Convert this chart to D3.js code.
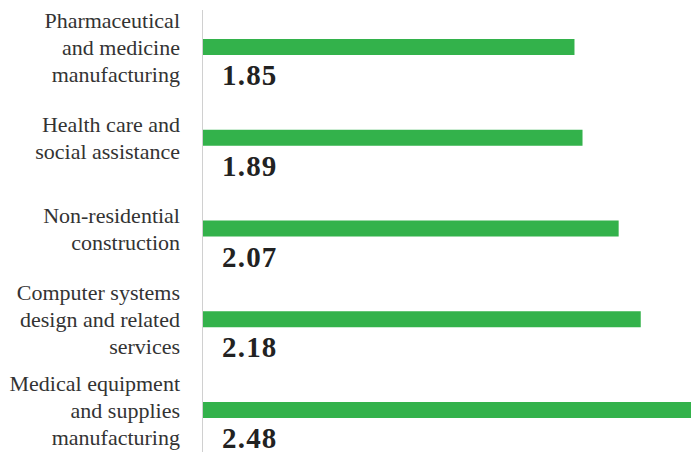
<!DOCTYPE html>
<html>
<head>
<meta charset="utf-8">
<script src="https://cdn.jsdelivr.net/npm/d3@7"></script>
<style>
  html, body { margin: 0; padding: 0; background: #fff; overflow: hidden; }
  .label { font-family: "Liberation Serif", Tinos, "Times New Roman", "DejaVu Serif", serif; font-size: 22px; fill: #333; }
  .value { font-family: "Liberation Serif", Tinos, "Times New Roman", "DejaVu Serif", serif; font-size: 29px; font-weight: bold; fill: #222; letter-spacing: 1.2px; }
</style>
</head>
<body>
<div id="chart"></div>
<script>
// data
const industries = [
  "Pharmaceutical and medicine manufacturing",
  "Health care and social assistance",
  "Non-residential construction",
  "Computer systems design and related services",
  "Medical equipment and supplies manufacturing"
];
const labelLines = [
  ["Pharmaceutical", "and medicine", "manufacturing"],
  ["Health care and", "social assistance"],
  ["Non-residential", "construction"],
  ["Computer systems", "design and related", "services"],
  ["Medical equipment", "and supplies", "manufacturing"]
];
const values = [1.85, 1.89, 2.07, 2.18, 2.48];

let width = 691,
    height = 452,
    barH = 16,
    lineH = 27;

const svg = d3.select("#chart")
  .append("svg")
  .attr("width", width)
  .attr("height", height);

let x = d3.scaleLinear()
  .domain([0, 2.5])
  .range([203, 705]);

let y = d3.scalePoint()
  .domain(industries)
  .range([47, 410]);

// vertical baseline
svg.append("line")
  .attr("x1", 202.5).attr("x2", 202.5)
  .attr("y1", 10).attr("y2", height)
  .attr("stroke", "#d0d0d0")
  .attr("stroke-width", 1);

// bars
svg.append("g")
  .selectAll("rect")
  .data(industries)
  .join("rect")
  .attr("x", x(0))
  .attr("y", d => y(d) - barH / 2)
  .attr("width", (d, i) => x(values[i]) - x(0))
  .attr("height", barH)
  .attr("fill", "#33b24b");

// value labels under each bar
svg.append("g")
  .selectAll("text")
  .data(industries)
  .join("text")
  .attr("class", "value")
  .attr("x", x(0) + 19)
  .attr("y", d => y(d) + barH / 2 + 30)
  .text((d, i) => values[i].toFixed(2));

// category labels, wrapped and centered on the bar
svg.append("g")
  .selectAll("text")
  .data(industries)
  .join("text")
  .attr("class", "label")
  .attr("text-anchor", "end")
  .attr("y", d => y(d))
  .each(function(d, i) {
    const lines = labelLines[i];
    const first = 8 - (lines.length - 1) * lineH / 2;
    d3.select(this).selectAll("tspan")
      .data(lines)
      .join("tspan")
      .attr("x", 180)
      .attr("y", (l, j) => y(d) + first + j * lineH)
      .text(l => l);
  });
</script>
</body>
</html>
